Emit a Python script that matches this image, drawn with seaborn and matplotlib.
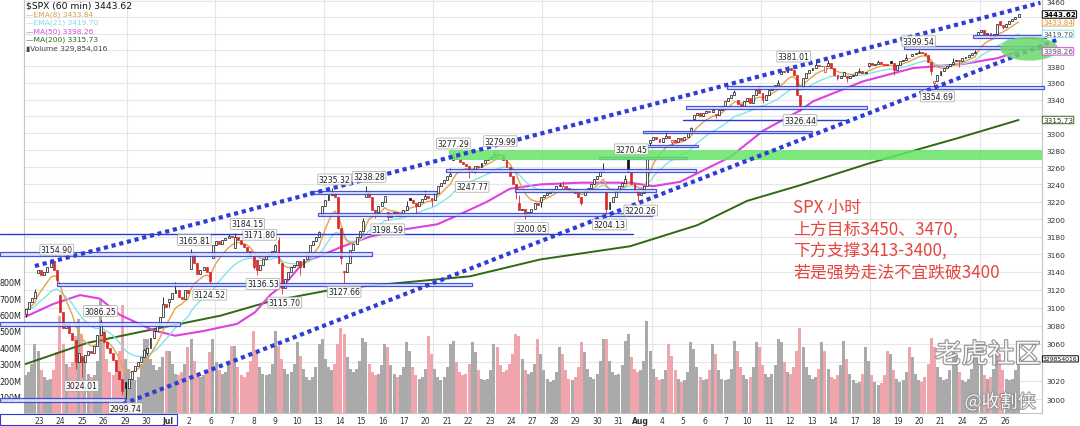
import numpy as np
import pandas as pd
import matplotlib
matplotlib.use("Agg")
import matplotlib.pyplot as plt
import matplotlib.transforms as mtransforms
import matplotlib.patheffects as pe
from matplotlib.patches import Rectangle, Ellipse
from matplotlib.ticker import FixedLocator, NullLocator, FixedFormatter
import seaborn as sns

sns.set_theme(style="white")
plt.rcParams["font.family"] = ["DejaVu Sans", "Noto Sans CJK SC"]

# ---------------- data ----------------
day_names = ["Jun 22", "Jun 23", "Jun 24", "Jun 25", "Jun 26", "Jun 29", "Jun 30",
             "Jul 1", "Jul 2", "Jul 6", "Jul 7", "Jul 8", "Jul 9", "Jul 10",
             "Jul 13", "Jul 14", "Jul 15", "Jul 16", "Jul 17", "Jul 20", "Jul 21",
             "Jul 22", "Jul 23", "Jul 24", "Jul 27", "Jul 28", "Jul 29", "Jul 30",
             "Jul 31", "Aug 3", "Aug 4", "Aug 5", "Aug 6", "Aug 7", "Aug 10",
             "Aug 11", "Aug 12", "Aug 13", "Aug 14", "Aug 17", "Aug 18", "Aug 19",
             "Aug 20", "Aug 21", "Aug 24", "Aug 25"]

day_open = [3093.00, 3138.70, 3114.40, 3046.60, 3073.20, 3018.59, 3050.20,
            3105.92, 3143.64, 3155.29, 3166.44, 3153.07, 3176.17, 3152.47,
            3205.08, 3141.11, 3225.98, 3208.36, 3224.21, 3224.29, 3268.52,
            3254.86, 3271.64, 3218.58, 3219.84, 3234.27, 3227.22, 3231.76,
            3270.45, 3288.26, 3289.92, 3317.37, 3323.17, 3340.05, 3356.04,
            3370.34, 3355.46, 3372.95, 3368.66, 3380.86, 3387.04, 3392.51,
            3360.48, 3386.01, 3418.09, 3435.95]

day_high = [3120.90, 3154.90, 3115.01, 3086.25, 3073.73, 3053.89, 3111.51,
            3128.44, 3165.81, 3182.59, 3184.15, 3171.80, 3179.78, 3186.82,
            3235.32, 3200.95, 3238.28, 3220.39, 3233.52, 3258.61, 3277.29,
            3279.32, 3279.99, 3227.26, 3241.43, 3243.72, 3264.74, 3250.92,
            3272.17, 3302.73, 3306.84, 3330.77, 3351.03, 3352.54, 3363.29,
            3381.01, 3387.89, 3387.24, 3378.51, 3387.59, 3395.06, 3399.54,
            3390.80, 3399.96, 3432.09, 3444.21]

day_low = [3090.00, 3127.12, 3032.13, 3024.01, 3004.63, 2999.74, 3047.83,
           3101.17, 3124.52, 3155.29, 3142.93, 3136.53, 3115.70, 3136.22,
           3149.43, 3127.66, 3200.76, 3198.59, 3205.65, 3215.16, 3247.77,
           3253.10, 3222.66, 3200.05, 3214.25, 3216.17, 3227.22, 3204.13,
           3220.26, 3284.53, 3286.37, 3317.37, 3318.14, 3328.72, 3335.44,
           3326.44, 3355.46, 3363.35, 3361.64, 3379.22, 3370.15, 3369.66,
           3354.69, 3379.31, 3413.13, 3425.84]

# hourly closes (60-min bars)
hour_close = [
    [3098, 3106, 3111, 3117.86],
    [3142, 3136, 3140, 3146, 3152, 3142, 3131.29],
    [3095, 3078, 3082, 3072, 3064, 3040, 3050.33],
    [3040, 3048, 3052, 3050, 3058, 3070, 3083.76],
    [3062, 3055, 3050, 3042, 3030, 3022, 3009.05],
    [3012, 3022, 3030, 3036, 3040, 3046, 3053.24],
    [3056, 3066, 3074, 3080, 3090, 3104, 3100.29],
    [3110, 3116, 3120, 3112, 3110, 3120, 3115.86],
    [3160, 3150, 3138, 3142, 3146, 3140, 3130.01],
    [3170, 3175, 3172, 3176, 3178, 3181, 3179.72],
    [3180, 3176, 3172, 3168, 3164, 3158, 3145.32],
    [3142, 3148, 3154, 3158, 3160, 3164, 3169.94],
    [3150, 3122, 3132, 3140, 3145, 3148, 3152.05],
    [3145, 3155, 3162, 3170, 3175, 3180, 3185.04],
    [3215, 3222, 3228, 3230, 3225, 3190, 3155.22],
    [3140, 3150, 3165, 3172, 3180, 3186, 3197.52],
    [3232, 3226, 3210, 3208, 3215, 3220, 3226.56],
    [3202, 3206, 3208, 3204, 3206, 3210, 3215.57],
    [3222, 3218, 3215, 3220, 3223, 3227, 3224.73],
    [3222, 3230, 3238, 3242, 3245, 3250, 3251.84],
    [3272, 3270, 3266, 3264, 3262, 3256, 3257.30],
    [3262, 3260, 3265, 3268, 3270, 3272, 3276.02],
    [3276, 3274, 3268, 3260, 3250, 3240, 3235.66],
    [3210, 3212, 3205, 3208, 3212, 3218, 3215.63],
    [3225, 3228, 3230, 3232, 3235, 3238, 3239.41],
    [3238, 3236, 3232, 3234, 3230, 3225, 3218.44],
    [3232, 3236, 3240, 3246, 3250, 3256, 3258.44],
    [3212, 3220, 3226, 3232, 3238, 3242, 3246.22],
    [3255, 3240, 3232, 3228, 3230, 3238, 3271.12],
    [3292, 3296, 3293, 3290, 3294, 3297, 3294.61],
    [3292, 3290, 3294, 3292, 3296, 3300, 3306.51],
    [3322, 3324, 3321, 3324, 3326, 3325, 3327.77],
    [3322, 3328, 3332, 3338, 3342, 3346, 3349.16],
    [3335, 3332, 3338, 3342, 3336, 3345, 3351.28],
    [3348, 3340, 3345, 3352, 3355, 3358, 3360.47],
    [3375, 3373, 3378, 3376, 3370, 3345, 3333.69],
    [3366, 3372, 3376, 3378, 3382, 3380, 3380.35],
    [3380, 3384, 3378, 3370, 3366, 3368, 3373.43],
    [3366, 3368, 3370, 3373, 3375, 3372, 3372.85],
    [3384, 3382, 3383, 3385, 3383, 3382, 3381.99],
    [3384, 3376, 3382, 3386, 3388, 3390, 3389.78],
    [3395, 3396, 3398, 3396, 3394, 3385, 3374.85],
    [3362, 3370, 3374, 3378, 3380, 3383, 3385.51],
    [3388, 3386, 3390, 3392, 3394, 3396, 3397.16],
    [3422, 3424, 3419, 3421, 3417, 3420, 3431.28],
    [3430, 3428, 3432, 3436, 3438, 3440, 3443.62],
]

# hourly volume, millions
hour_volume = [
    [230, 250, 300, 420],
    [380, 260, 220, 200, 210, 260, 370],
    [590, 420, 300, 280, 310, 470, 575],
    [480, 330, 240, 220, 230, 320, 690],
    [500, 330, 250, 230, 260, 380, 660],
    [330, 270, 210, 200, 220, 300, 450],
    [450, 330, 290, 260, 280, 340, 380],
    [380, 300, 240, 230, 250, 300, 400],
    [450, 320, 240, 220, 230, 260, 370],
    [450, 310, 260, 240, 250, 300, 410],
    [410, 280, 230, 220, 250, 320, 500],
    [370, 280, 240, 230, 240, 300, 500],
    [410, 330, 270, 240, 250, 300, 430],
    [350, 270, 220, 200, 220, 280, 420],
    [450, 330, 280, 260, 300, 420, 520],
    [480, 340, 270, 250, 270, 320, 460],
    [430, 300, 250, 230, 240, 290, 420],
    [400, 290, 240, 220, 230, 280, 430],
    [380, 280, 230, 210, 220, 270, 470],
    [360, 270, 220, 200, 220, 280, 420],
    [440, 310, 250, 230, 240, 300, 430],
    [370, 260, 210, 200, 210, 260, 420],
    [400, 290, 250, 260, 300, 360, 480],
    [470, 330, 260, 240, 250, 300, 450],
    [360, 260, 210, 190, 200, 250, 400],
    [360, 260, 210, 200, 220, 280, 430],
    [370, 270, 220, 210, 240, 320, 450],
    [450, 320, 250, 230, 240, 290, 440],
    [480, 340, 270, 250, 260, 320, 560],
    [380, 270, 220, 200, 210, 260, 420],
    [350, 260, 210, 190, 200, 250, 430],
    [390, 280, 220, 200, 210, 260, 420],
    [360, 260, 210, 200, 210, 270, 440],
    [380, 280, 230, 210, 220, 280, 430],
    [400, 290, 240, 220, 240, 290, 450],
    [430, 310, 250, 240, 280, 380, 520],
    [400, 280, 230, 210, 220, 270, 430],
    [380, 270, 220, 210, 230, 290, 440],
    [330, 240, 200, 180, 190, 240, 400],
    [320, 230, 190, 170, 180, 230, 380],
    [360, 260, 210, 190, 200, 250, 400],
    [340, 240, 200, 190, 220, 300, 460],
    [400, 280, 220, 200, 210, 260, 420],
    [350, 250, 200, 190, 210, 270, 450],
    [420, 290, 230, 210, 220, 270, 430],
    [360, 260, 210, 200, 210, 260, 330],
]

# MA(50) and MA(200): (bar index, value)
ma50_bar = [0, 8.8, 17.4, 23.8, 30.2, 40.8, 47.9, 56.8, 67.7, 73.5, 78.3, 83.7, 88.8,
            101.7, 110.3, 120.9, 131.8, 138.2, 147.8, 155.1, 164.8, 177.6, 193.6,
            201.0, 209.6, 215.1, 225.6, 236.2, 248.0, 252.2, 268.2, 284.2, 300.3,
            311.2, 318]
ma50_val = [3090, 3104, 3114, 3110, 3092, 3075, 3069, 3074, 3082, 3095, 3114, 3129, 3150,
            3169, 3180, 3188, 3194, 3204, 3220, 3235, 3240, 3242, 3242,
            3238, 3243, 3253, 3272, 3303, 3327, 3338, 3362, 3378, 3383,
            3390, 3398.26]
ma200_bar = [0, 19.7, 40.8, 62.3, 78.3, 99.7, 120.9, 142.3, 164.8, 193.6, 215.1,
             231.1, 248.0, 270.5, 298.3, 318]
ma200_val = [3038, 3061, 3076, 3091, 3107, 3121, 3128, 3135, 3154, 3169, 3193,
             3221, 3239, 3265, 3294, 3315.73]

# price labels on the chart: text, bar index, above(+1)/below(-1)
mark_text = ["3154.90", "3086.25", "3024.01", "2999.74", "3165.81", "3124.52", "3184.15",
             "3171.80", "3136.53", "3115.70", "3235.32", "3238.28", "3127.66", "3198.59",
             "3277.29", "3279.99", "3247.77", "3200.05", "3204.13", "3220.26", "3270.45",
             "3381.01", "3326.44", "3399.54", "3354.69"]
mark_bar = [10, 24, 18, 32, 54, 59, 71, 75, 76, 83, 99, 110, 102, 116,
            137, 152, 143, 162, 187, 197, 194, 246, 248, 286, 292]
mark_side = [1, 1, -1, -1, 1, -1, 1, 1, -1, -1, 1, 1, -1, -1,
             1, 1, -1, -1, -1, -1, 1, 1, -1, 1, -1]

# support / resistance boxes drawn on the chart (price top, price bottom, bar from, bar to)
sr_top = [3182.9, 3162.4, 3127.5, 3084.1, 3001.7, 3232.6, 3206.6, 3257.7, 3234.9,
          3272.6, 3286.6, 3302.4, 3316.0, 3332.2, 3355.8, 3404.6, 3418.1]
sr_bot = [3182.9, 3157.9, 3124.1, 3079.7, 2997.4, 3229.1, 3203.2, 3254.2, 3231.5,
          3269.1, 3284.2, 3300.0, 3316.0, 3328.6, 3352.2, 3401.0, 3414.4]
sr_from = [-8.2, -8.2, 10.1, -8.2, -8.2, 91.1, 93.7, 134.7, 156.8,
           183.7, 198.7, 197.8, 210.6, 211.5, 224.7, 281.4, 303.5]
sr_to = [194.6, 111.0, 143.0, 49.5, 31.8, 131.8, 200.6, 214.7, 201.9,
         211.9, 215.4, 251.9, 262.8, 269.5, 326.0, 326.0, 326.9]

# channel lines (bar, price)
upper_channel = [(3.0, 3146.6), (325.0, 3458.0)]
lower_channel = [(31.2, 2994.7), (330.7, 3413.0)]
green_zone = (135.6, 325.5, 3268.0, 3280.8)
green_ellipse = (321.4, 3401.5, 18.6, 29.0)

x_labels = ["23", "24", "25", "26", "29", "30", "Jul", "2", "6", "7", "8", "9", "10",
            "13", "14", "15", "16", "17", "20", "21", "22", "23", "24", "27", "28", "29",
            "30", "31", "Aug", "4", "5", "6", "7", "10", "11", "12", "13", "14", "17",
            "18", "19", "20", "21", "24", "25", "26"]
price_ticks = list(range(3000, 3461, 20))
hidden_ticks = [3440, 3420, 3400, 3320, 3040]   # covered by the value tags in the original
vol_ticks = [100, 200, 300, 400, 500, 600, 700, 800]

legend_lines = ["$SPX (60 min) 3443.62", "\u2014EMA(8) 3433.84", "\u2014EMA(21) 3419.70",
                "\u2014MA(50) 3398.26", "\u2014MA(200) 3315.73", "\u25aeVolume 329,854,016"]
note_lines = ["SPX 小时", "上方目标3450、3470,", "下方支撑3413-3400,", "若是强势走法不宜跌破3400"]

# ---------------- build bars ----------------
opens, closes, highs, lows, vols, day_first = [], [], [], [], [], []
for d in range(len(day_names)):
    cl = list(hour_close[d])
    op = [day_open[d]] + cl[:-1]
    tops = [max(a, b) for a, b in zip(op, cl)]
    bots = [min(a, b) for a, b in zip(op, cl)]
    hi, lo = list(tops), list(bots)
    hi[int(np.argmax(tops))] = max(day_high[d], max(tops))
    lo[int(np.argmin(bots))] = min(day_low[d], min(bots))
    day_first.append(len(closes))
    opens += op; closes += cl; highs += hi; lows += lo
    vols += [v * 1e6 for v in hour_volume[d]]

n = len(closes)
xb = np.arange(n)
opens, closes, highs, lows, vols = map(np.array, (opens, closes, highs, lows, vols))
prev = np.concatenate([[opens[0]], closes[:-1]])
down = closes < prev
s = pd.Series(closes)
ema8 = s.ewm(span=8, adjust=False).mean().values
ema21 = s.ewm(span=21, adjust=False).mean().values

# ---------------- figure / axes ----------------
W, H = 1080, 427
fig = plt.figure(figsize=(W / 100, H / 100), dpi=100)
L, R, T, B = 24, 1042, 0, 414
rect = [L / W, 1 - B / H, (R - L) / W, (B - T) / H]
XL = (-0.51, 325.5)
PL = (2985.1, 3462.7)
VL = (0, 2.524e9)

ax_bg = fig.add_axes(rect)
axv = fig.add_axes(rect)
ax = fig.add_axes(rect)
for a in (ax_bg, ax):
    a.set_yscale("log")
    a.set_ylim(*PL)
for a in (ax_bg, axv, ax):
    a.set_xlim(*XL)
axv.set_ylim(*VL)
axv.patch.set_alpha(0)
ax.patch.set_alpha(0)

# grid on background axes
ax_bg.yaxis.set_major_locator(FixedLocator(price_ticks))
ax_bg.yaxis.set_minor_locator(NullLocator())
mondays = [day_first[i] for i, nm in enumerate(day_names)
           if nm in ("Jun 29", "Jul 6", "Jul 13", "Jul 20", "Jul 27", "Aug 3", "Aug 10", "Aug 17", "Aug 24")]
ax_bg.xaxis.set_major_locator(FixedLocator([m + 0.5 for m in mondays]))
ax_bg.grid(True, color="#e6e6e6", lw=0.8)
ax_bg.tick_params(labelleft=False, labelbottom=False, left=False, bottom=False)
for sp in ax_bg.spines.values():
    sp.set_color("#c4c4c4"); sp.set_linewidth(0.8)
for a in (axv, ax):
    for sp in a.spines.values():
        sp.set_visible(False)

# volume
vcol = np.where(down, "#F0A4AB", "#AAAAAA")
axv.bar(xb, vols, width=0.96, color=vcol, linewidth=0)
axv.yaxis.set_major_locator(FixedLocator([v * 1e6 for v in vol_ticks]))
axv.yaxis.set_major_formatter(FixedFormatter([f"{v}M" for v in vol_ticks]))
axv.tick_params(axis="y", length=0, pad=2, labelsize=5.8, colors="#222222")
axv.tick_params(axis="x", bottom=False, labelbottom=False)

# moving averages
sns.lineplot(x=ma200_bar, y=ma200_val, ax=ax, color="#2F6914", lw=1.4, estimator=None, sort=False, zorder=2)
sns.lineplot(x=ma50_bar, y=ma50_val, ax=ax, color="#E040E0", lw=1.5, estimator=None, sort=False, zorder=2)
sns.lineplot(x=xb, y=ema21, ax=ax, color="#86E2EC", lw=1.0, estimator=None, sort=False, zorder=2)
sns.lineplot(x=xb, y=ema8, ax=ax, color="#E2A44C", lw=1.0, estimator=None, sort=False, zorder=2)

# candles
edge = np.where(down, "#D82A2A", "#111111")
face = np.where(closes < opens, edge, "white")
ax.vlines(xb, lows, highs, colors=edge, lw=0.6, zorder=3)
body_lo = np.minimum(opens, closes)
body_h = np.maximum(np.abs(closes - opens), 0.5)
ax.bar(xb, body_h, bottom=body_lo, width=0.62, color=face, edgecolor=edge, linewidth=0.5, zorder=3.1)

# support/resistance boxes
BLUE = "#2A3ACF"
for t, b, x0, x1 in zip(sr_top, sr_bot, sr_from, sr_to):
    if t == b:
        ax.plot([x0, x1], [t, t], color=BLUE, lw=1.0, zorder=4, clip_on=False)
    else:
        ax.add_patch(Rectangle((x0, b), x1 - x0, t - b, fc="#DCE3FF", ec=BLUE, lw=0.9,
                               alpha=0.85, zorder=4, clip_on=False))

gz = green_zone
ax.add_patch(Rectangle((gz[0], gz[2]), gz[1] - gz[0], gz[3] - gz[2], fc="#66E466", ec="none",
                       alpha=0.85, zorder=4.2))

# channel lines
for ch in (upper_channel, lower_channel):
    ax.plot([ch[0][0], ch[1][0]], [ch[0][1], ch[1][1]], color="#2C3DD8", lw=3.0,
            ls=(0, (1, 0.9)), zorder=5, clip_on=False)

ge = green_ellipse
ax.add_patch(Ellipse((ge[0], ge[1]), ge[2], ge[3], fc="#6CD86C", ec="none", alpha=0.85,
                     zorder=6, clip_on=False))

# price labels
for txt, bi, sd in zip(mark_text, mark_bar, mark_side):
    ax.annotate(txt, xy=(bi, float(txt)), xytext=(0, 6.5 * sd), textcoords="offset points",
                ha="center", va="center", fontsize=5.6, color="#222222", zorder=7,
                bbox=dict(boxstyle="round,pad=0.12", fc="white", ec="#9a9a9a", lw=0.5, alpha=0.9))

# right price axis
shown_ticks = [p for p in price_ticks if p not in hidden_ticks]
ax.yaxis.tick_right()
ax.yaxis.set_major_locator(FixedLocator(shown_ticks))
ax.yaxis.set_minor_locator(NullLocator())
ax.yaxis.set_major_formatter(FixedFormatter([str(p) for p in shown_ticks]))
ax.tick_params(axis="y", length=0, pad=3, labelsize=5.4, colors="#333333")

# x labels
lab_pos = [XL[0] + (39 + 21.47 * k - L) / ((R - L) / (XL[1] - XL[0])) for k in range(len(x_labels))]
ax.set_xticks(lab_pos)
ax.set_xticklabels(x_labels)
ax.tick_params(axis="x", length=0, pad=2, labelsize=5.5, colors="#333333")
for tl in ax.get_xticklabels():
    if tl.get_text() in ("Jul", "Aug"):
        tl.set_fontweight("bold")

# value tags on the right edge
btr = mtransforms.blended_transform_factory(ax.transAxes, ax.transData)
tags = [("3433.84", 3433.84, "#D9973A", "#E2A44C"), ("3419.70", 3419.70, "#555555", "#86E2EC"),
        ("3398.26", 3398.26, "#555555", "#E040E0"), ("3315.73", 3315.73, "#333333", "#2F6914"),
        ("3443.62", 3443.62, "#000000", "#000000")]
for i, (txt, val, tc, ec) in enumerate(tags):
    ax.text(1.001, val, txt, transform=btr, ha="left", va="center", fontsize=5.2, color=tc,
            fontweight="bold" if txt == "3443.62" else "normal", zorder=8 + i, clip_on=False,
            bbox=dict(boxstyle="round,pad=0.1", fc="white", ec=ec, lw=0.7))
btv = mtransforms.blended_transform_factory(axv.transAxes, axv.transData)
axv.text(1.001, vols[-1], "329854016", transform=btv, ha="left", va="center", fontsize=4.4,
         color="#111111", clip_on=False, zorder=9,
         bbox=dict(boxstyle="round,pad=0.1", fc="white", ec="#000000", lw=0.7))

# legend block
leg_cols = ["#111111", "#D9A050", "#7FDDE8", "#D64FD6", "#2E6B1A", "#444444"]
for i, (txt, c) in enumerate(zip(legend_lines, leg_cols)):
    fig.text(26 / W, 1 - (6 + 8.5 * i) / H, txt, fontsize=6.6 if i == 0 else 5.4, color=c,
             ha="left", va="center")

# red note
for i, line in enumerate(note_lines):
    fig.text(793 / W, 1 - (208 + 21.5 * i) / H, line, fontsize=12.2, color="#E5453E",
             ha="left", va="center", family=["Noto Sans CJK SC", "DejaVu Sans"])

# bottom label-row box
fig.add_artist(Rectangle((0, 1 - 426 / H), 177 / W, 11 / H, transform=fig.transFigure,
                         fill=False, ec=BLUE, lw=0.8))

# watermarks
fig.text(988 / W, 1 - 356 / H, "老虎社区", fontsize=19, color="white", alpha=0.92,
         ha="center", va="center", family=["Noto Sans CJK SC", "DejaVu Sans"],
         path_effects=[pe.withStroke(linewidth=1.6, foreground="#8a8a8a")])
fig.text(1000 / W, 1 - 403 / H, "@收割侠", fontsize=13, color="white", alpha=0.92,
         ha="center", va="center", family=["Noto Sans CJK SC", "DejaVu Sans"],
         path_effects=[pe.withStroke(linewidth=1.3, foreground="#8a8a8a")])

fig.savefig("out.png", dpi=100)
